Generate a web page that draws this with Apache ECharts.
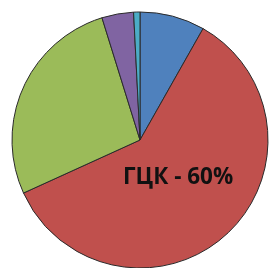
<!DOCTYPE html>
<html><head><meta charset="utf-8">
<script src="https://cdn.jsdelivr.net/npm/echarts@6/dist/echarts.min.js"></script>
<style>html,body{margin:0;padding:0;background:#fff}#c{width:269px;height:268px}</style>
</head><body><div id="c"></div>
<script>
const categories = ['A', 'ГЦК', 'B', 'C', 'D'];
const values = [8.2, 60, 27.0, 4.0, 0.8];
const colors = ['#4F81BD', '#C0504D', '#9BBB59', '#8064A2', '#4BACC6'];
const labelText = 'ГЦК - 60%';

const chart = echarts.init(document.getElementById('c'));
chart.setOption({
  animation: false,
  series: [{
    type: 'pie',
    center: [140, 140],
    radius: 128,
    startAngle: 90,
    clockwise: true,
    label: { show: false },
    labelLine: { show: false },
    itemStyle: { borderColor: '#2a2a2a', borderWidth: 1 },
    data: categories.map((n, i) => ({ name: n, value: values[i], itemStyle: { color: colors[i] } }))
  }],
  graphic: [{
    type: 'text',
    z: 100,
    left: 123,
    top: 166,
    style: { text: labelText, fontFamily: 'Open Sans', fontWeight: 'bold', fontSize: 22.5, fill: '#111' }
  }]
});
</script></body></html>
